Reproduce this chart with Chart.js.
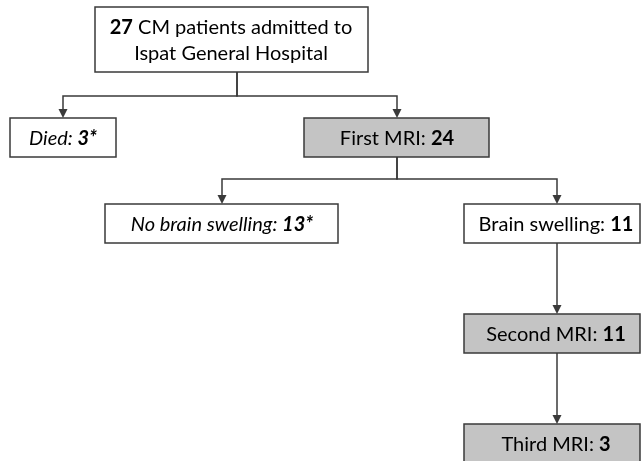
<!DOCTYPE html>
<html>
<head>
<meta charset="utf-8">
<script src="https://cdn.jsdelivr.net/npm/chart.js@4.4.1/dist/chart.umd.min.js"></script>
<style>
  body { margin: 0; background: #fff; }
  #wrap { width: 642px; height: 461px; position: relative; }
</style>
</head>
<body>
<div id="wrap"><canvas id="flowChart"></canvas></div>
<script>
// ========== DATA ==========
const stepLabels = ["CM patients admitted to", "Died", "First MRI", "No brain swelling", "Brain swelling", "Second MRI", "Third MRI"];
const stepCounts = [27, 3, 24, 13, 11, 11, 3];
const stepNotes = ["", "*", "", "*", "", "", ""];
const subLabels = ["Ispat General Hospital", "", "", "", "", "", ""];
const links = [[0, 1], [0, 2], [2, 3], [2, 4], [4, 5], [5, 6]];

// ========== LAYOUT (chart units = pixels of the 642x461 plane) ==========
const boxLeft   = [95, 10, 304, 105, 464, 464, 464];
const boxRight  = [368, 116, 489, 338, 640, 640, 640];
const boxTop    = [7, 118, 118, 204, 204, 314, 424];
const boxBottom = [72, 157, 157, 243, 243, 353, 463];
const anchorX   = [237, 63, 397, 222, 557, 557, 557];
const textX     = [231, 63, 397, 222, 556, 556, 556];
const splitY    = { 0: 96, 2: 179 };
const italicStep = [false, true, false, true, false, false, false];
const greyStep   = [false, false, true, false, false, true, true];

const FONT = "Lato";
const FONT_SIZE = 20;

function segmentsFor(i) {
  if (subLabels[i]) {
    return [
      [{ t: String(stepCounts[i]), b: true }, { t: " " + stepLabels[i], b: false }],
      [{ t: subLabels[i], b: false }]
    ];
  }
  return [[{ t: stepLabels[i] + ": ", b: false }, { t: stepCounts[i] + stepNotes[i], b: true }]];
}

const flowPlugin = {
  id: "flowBoxes",
  afterDatasetsDraw(chart) {
    const ctx = chart.ctx;
    const xs = chart.scales.x;
    const ys = chart.scales.y;
    const px = v => xs.getPixelForValue(v);
    const py = v => ys.getPixelForValue(v);

    ctx.save();
    ctx.strokeStyle = "#3a3a3a";
    ctx.fillStyle = "#3a3a3a";
    ctx.lineWidth = 1.5;

    // connectors
    links.forEach(function (l) {
      const p = l[0], c = l[1];
      const x0 = px(anchorX[p]), y0 = py(boxBottom[p]);
      const x1 = px(anchorX[c]), y1 = py(boxTop[c]);
      const ym = splitY[p] !== undefined ? py(splitY[p]) : y0;
      ctx.beginPath();
      ctx.moveTo(x0, y0);
      ctx.lineTo(x0, ym);
      ctx.lineTo(x1, ym);
      ctx.lineTo(x1, y1 - 8);
      ctx.stroke();
      ctx.beginPath();
      ctx.moveTo(x1 - 4.5, y1 - 9);
      ctx.lineTo(x1 + 4.5, y1 - 9);
      ctx.lineTo(x1, y1);
      ctx.closePath();
      ctx.fill();
    });

    // boxes
    stepLabels.forEach(function (_, i) {
      const l = px(boxLeft[i]), r = px(boxRight[i]);
      const t = py(boxTop[i]), b = py(boxBottom[i]);
      ctx.fillStyle = greyStep[i] ? "#c4c4c4" : "#fff";
      ctx.fillRect(l, t, r - l, b - t);
      ctx.strokeStyle = "#3a3a3a";
      ctx.strokeRect(l, t, r - l, b - t);

      const lines = segmentsFor(i);
      const lineH = 26;
      const midY = (t + b) / 2;
      ctx.fillStyle = "#000";
      ctx.textBaseline = "middle";
      ctx.textAlign = "left";
      lines.forEach(function (segs, k) {
        const fonts = segs.map(s => (italicStep[i] ? "italic " : "") + (s.b ? "bold " : "") + FONT_SIZE + "px " + FONT);
        let w = 0;
        segs.forEach(function (s, j) { ctx.font = fonts[j]; w += ctx.measureText(s.t).width; });
        let x = px(textX[i]) - w / 2;
        const y = midY + (k - (lines.length - 1) / 2) * lineH + 1;
        segs.forEach(function (s, j) {
          ctx.font = fonts[j];
          ctx.fillText(s.t, x, y);
          x += ctx.measureText(s.t).width;
        });
      });
    });
    ctx.restore();
  }
};

const ctx = document.getElementById("flowChart");

new Chart(ctx, {
  type: "scatter",
  data: {
    datasets: [{
      label: "steps",
      data: anchorX.map((x, i) => ({ x: x, y: (boxTop[i] + boxBottom[i]) / 2 })),
      pointRadius: 0
    }]
  },
  options: {
    responsive: true,
    maintainAspectRatio: false,
    animation: false,
    layout: { padding: 0 },
    plugins: {
      legend: { display: false },
      tooltip: { enabled: false }
    },
    scales: {
      x: { type: "linear", min: 0, max: 642, display: false },
      y: { type: "linear", min: 0, max: 461, reverse: true, display: false }
    }
  },
  plugins: [flowPlugin]
});
</script>
</body>
</html>
